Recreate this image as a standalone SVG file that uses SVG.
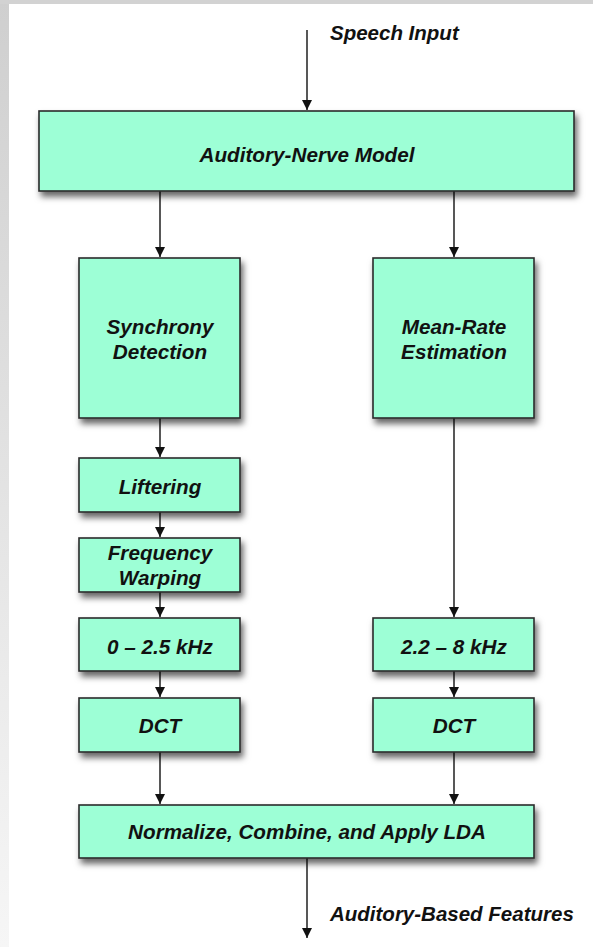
<svg xmlns="http://www.w3.org/2000/svg" width="593" height="947" viewBox="0 0 593 947">
  <style>
    .box { fill: #9dffd6; stroke: #2b2b2b; stroke-width: 1.6; filter: url(#shadow); }
    .lbl { font-family: "Liberation Sans", Arial, Helvetica, sans-serif; font-weight: bold; font-style: italic; font-size: 20.7px; fill: #111; text-anchor: middle; }
    .io { font-family: "Liberation Sans", Arial, Helvetica, sans-serif; font-weight: bold; font-style: italic; font-size: 20.5px; fill: #111; }
    .wire { stroke: #111; stroke-width: 1.4; fill: none; marker-end: url(#head); }
  </style>
  <defs>
    <filter id="shadow" x="-10%" y="-20%" width="125%" height="150%">
      <feDropShadow dx="2.5" dy="5" stdDeviation="3.2" flood-color="#000" flood-opacity="0.6"/>
    </filter>
    <marker id="head" viewBox="0 0 10 12" refX="10" refY="6" markerWidth="10" markerHeight="12" markerUnits="userSpaceOnUse" orient="auto">
      <path d="M0,1 L10,6 L0,11 Z" fill="#111"/>
    </marker>
    <linearGradient id="edge" x1="0" y1="0" x2="0" y2="1">
      <stop offset="0" stop-color="#cfcfcf"/>
      <stop offset="1" stop-color="#f6f6f6"/>
    </linearGradient>
  </defs>

  <!-- page background with frame strips -->
  <rect x="0" y="0" width="593" height="947" fill="#ffffff"/>
  <rect x="0" y="0" width="9" height="947" fill="url(#edge)"/>
  <rect x="0" y="0" width="593" height="4" fill="#d2d2d2"/>

  <!-- connectors -->
  <g id="connectors">
    <line class="wire" x1="307" y1="30" x2="307" y2="110"/>
    <line class="wire" x1="160" y1="191" x2="160" y2="257"/>
    <line class="wire" x1="454" y1="191" x2="454" y2="257"/>
    <line class="wire" x1="160" y1="418" x2="160" y2="457"/>
    <line class="wire" x1="160" y1="512" x2="160" y2="537"/>
    <line class="wire" x1="160" y1="590" x2="160" y2="617"/>
    <line class="wire" x1="160" y1="671" x2="160" y2="697"/>
    <line class="wire" x1="454" y1="418" x2="454" y2="617"/>
    <line class="wire" x1="454" y1="671" x2="454" y2="697"/>
    <line class="wire" x1="160" y1="752" x2="160" y2="804"/>
    <line class="wire" x1="454" y1="752" x2="454" y2="804"/>
    <line class="wire" x1="307" y1="858" x2="307" y2="938"/>
  </g>

  <!-- external labels -->
  <text class="io" x="330" y="40">Speech Input</text>
  <text class="io" x="330" y="921">Auditory-Based Features</text>

  <!-- processing blocks -->
  <g id="auditory-nerve-model">
    <rect class="box" x="39" y="111" width="535" height="80"/>
    <text class="lbl" x="307" y="162">Auditory-Nerve Model</text>
  </g>

  <g id="synchrony-detection">
    <rect class="box" x="79" y="258" width="161" height="160"/>
    <text class="lbl" x="160" y="334">Synchrony</text>
    <text class="lbl" x="160" y="359">Detection</text>
  </g>

  <g id="mean-rate-estimation">
    <rect class="box" x="373" y="258" width="161" height="160"/>
    <text class="lbl" x="454" y="334">Mean-Rate</text>
    <text class="lbl" x="454" y="359">Estimation</text>
  </g>

  <g id="liftering">
    <rect class="box" x="79" y="458" width="161" height="54"/>
    <text class="lbl" x="160" y="494">Liftering</text>
  </g>

  <g id="frequency-warping">
    <rect class="box" x="79" y="538" width="161" height="54"/>
    <text class="lbl" x="160" y="560">Frequency</text>
    <text class="lbl" x="160" y="585">Warping</text>
  </g>

  <g id="band-low">
    <rect class="box" x="79" y="618" width="161" height="53"/>
    <text class="lbl" x="160" y="654">0 – 2.5 kHz</text>
  </g>

  <g id="band-high">
    <rect class="box" x="373" y="618" width="161" height="53"/>
    <text class="lbl" x="454" y="654">2.2 – 8 kHz</text>
  </g>

  <g id="dct-low">
    <rect class="box" x="79" y="698" width="161" height="54"/>
    <text class="lbl" x="160" y="733">DCT</text>
  </g>

  <g id="dct-high">
    <rect class="box" x="373" y="698" width="161" height="54"/>
    <text class="lbl" x="454" y="733">DCT</text>
  </g>

  <g id="normalize-combine-lda">
    <rect class="box" x="79" y="805" width="455" height="53"/>
    <text class="lbl" x="307" y="839">Normalize, Combine, and Apply LDA</text>
  </g>
</svg>
